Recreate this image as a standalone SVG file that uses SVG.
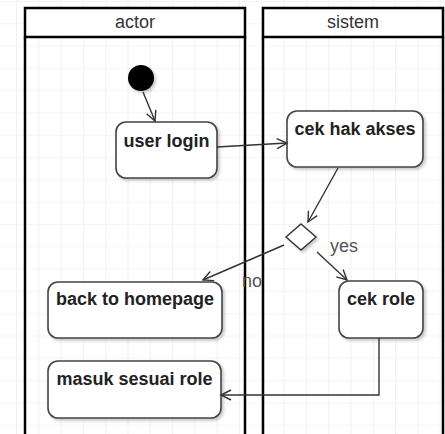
<svg xmlns="http://www.w3.org/2000/svg" width="445" height="434" viewBox="0 0 445 434">
  <defs>
    <pattern id="grid" x="16" y="1" width="22.3" height="22.3" patternUnits="userSpaceOnUse">
      <path d="M0,0 H22.3 M0,0 V22.3" fill="none" stroke="#e9e9e9" stroke-width="1.2"/>
    </pattern>
    <filter id="sh" x="-10%" y="-10%" width="130%" height="130%">
      <feDropShadow dx="2" dy="2" stdDeviation="1.5" flood-color="#000" flood-opacity="0.22"/>
    </filter>
    <marker id="open" markerUnits="userSpaceOnUse" markerWidth="14" markerHeight="14" refX="11" refY="6" orient="auto">
      <path d="M1,1 L11,6 L1,11" fill="none" stroke="#333" stroke-width="1.4"/>
    </marker>
    <style>
      .lane { fill: none; stroke: #000; stroke-width: 2.5; }
      .head { fill: #fff; stroke: #000; stroke-width: 2.5; }
      .htxt { font-family: "Liberation Sans", Arial, sans-serif; font-size: 18px; fill: #333; text-anchor: middle; }
      .box { fill: #fff; stroke: #444; stroke-width: 1.6; filter: url(#sh); }
      .btxt { font-family: "Liberation Sans", Arial, sans-serif; font-size: 18px; font-weight: bold; fill: #222; text-anchor: middle; }
      .lbl { font-family: "Liberation Sans", Arial, sans-serif; font-size: 18px; fill: #555; }
      .edge { fill: none; stroke: #333; stroke-width: 1.4; marker-end: url(#open); }
    </style>
  </defs>
  <rect x="0" y="0" width="445" height="434" fill="#fff"/>
  <rect x="0" y="0" width="445" height="434" fill="url(#grid)"/>

  <g id="lane-actor">
    <path class="lane" d="M25,37 V434 M245,37 V434"/>
    <rect class="head" x="25" y="8" width="220" height="29"/>
    <text class="htxt" x="135" y="28">actor</text>
  </g>
  <g id="lane-sistem">
    <path class="lane" d="M263,37 V434 M443,37 V434"/>
    <rect class="head" x="263" y="8" width="180" height="29"/>
    <text class="htxt" x="353" y="28">sistem</text>
  </g>

  <g id="start">
    <circle cx="141" cy="78" r="13" fill="#000" filter="url(#sh)"/>
  </g>
  <g id="user-login">
    <rect class="box" x="116" y="122" width="101" height="56" rx="10"/>
    <text class="btxt" x="166.5" y="147">user login</text>
  </g>
  <g id="cek-hak-akses">
    <rect class="box" x="287" y="111" width="136" height="56" rx="10"/>
    <text class="btxt" x="355" y="135">cek hak akses</text>
  </g>
  <g id="decision">
    <polygon points="301,224 316,237 301,250 286,237" fill="#fff" stroke="#333" stroke-width="1.4" filter="url(#sh)"/>
  </g>
  <g id="back-to-homepage">
    <rect class="box" x="48" y="282" width="174" height="56" rx="10"/>
    <text class="btxt" x="135" y="305">back to homepage</text>
  </g>
  <g id="cek-role">
    <rect class="box" x="339" y="281" width="84" height="57" rx="10"/>
    <text class="btxt" x="381" y="305">cek role</text>
  </g>
  <g id="masuk-sesuai-role">
    <rect class="box" x="48" y="361" width="173" height="57" rx="10"/>
    <text class="btxt" x="134.5" y="385">masuk sesuai role</text>
  </g>

  <g id="connectors">
    <path class="edge" d="M143,92 L155,121"/>
    <path class="edge" d="M217,147 L287,143"/>
    <path class="edge" d="M338,168 L308,222"/>
    <path class="edge" d="M284,245 L203,280"/>
    <path class="edge" d="M317,252 L347,280"/>
    <path class="edge" d="M379,338 V395 H221"/>
    <text class="lbl" x="242" y="287">no</text>
    <text class="lbl" x="330" y="252">yes</text>
  </g>
</svg>
